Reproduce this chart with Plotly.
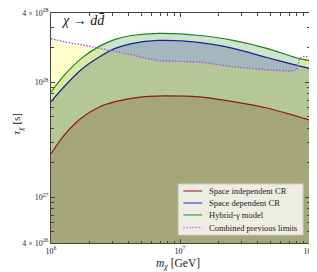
import plotly.graph_objects as go

# ---- data ----
mass_red = [1e6, 1.29e6, 1.73e6, 2.33e6, 3.14e6, 4.22e6, 5.68e6, 7.66e6, 1.4e7, 2.58e7, 4.71e7, 1e8]
tau_red = [2.39e27, 3.56e27, 4.92e27, 6.04e27, 6.78e27, 7.24e27, 7.53e27, 7.62e27, 7.47e27, 6.78e27, 5.97e27, 4.70e27]

mass_blue = [1e6, 1.29e6, 1.73e6, 2.33e6, 3.14e6, 4.22e6, 6.79e6, 1.435e7, 2.58e7, 4.71e7, 8.51e7, 1e8]
tau_blue = [6.78e27, 9.37e27, 1.295e28, 1.64e28, 1.97e28, 2.17e28, 2.31e28, 2.21e28, 1.97e28, 1.64e28, 1.38e28, 1.32e28]

mass_green = [1e6, 1.29e6, 1.73e6, 2.33e6, 3.14e6, 4.22e6, 6.79e6, 1.435e7, 2.58e7, 4.71e7, 8.51e7, 1e8]
tau_green = [8.23e27, 1.175e28, 1.62e28, 2.03e28, 2.36e28, 2.55e28, 2.66e28, 2.55e28, 2.31e28, 1.97e28, 1.60e28, 1.55e28]

mass_prev = [1e6, 1.36e6, 1.73e6, 2.33e6, 3.14e6, 4.22e6, 5.36e6, 6.79e6, 1.435e7, 1.93e7, 2.58e7,
             3.49e7, 4.71e7, 7.13e7, 8.04e7, 8.51e7, 8.97e7, 1e8]
tau_prev = [2.39e28, 2.21e28, 2.12e28, 1.99e28, 1.87e28, 1.73e28, 1.62e28, 1.54e28, 1.50e28, 1.43e28, 1.36e28,
            1.32e28, 1.28e28, 1.25e28, 1.29e28, 1.62e28, 1.67e28, 1.67e28]

y_tickvals = [4e26, 1e27, 1e28, 4e28]
y_ticktext = ["4 × 10<sup>26</sup>", "10<sup>27</sup>", "10<sup>28</sup>", "4 × 10<sup>28</sup>"]
x_tickvals = [1e6, 1e7, 1e8]
x_ticktext = ["10<sup>6</sup>", "10<sup>7</sup>", "10<sup>8</sup>"]

labels = ["Space independent CR", "Space dependent CR", "Hybrid-γ model", "Combined previous limits"]

BASE = 1e26
FONT = "Liberation Serif"

LINE_COLORS = ["#8b1a1a", "#1c1c9a", "#1e801e", "#a855d8"]
LEGEND_COLORS = ["#b05858", "#6a6ad0", "#5aae5a", "#c77ae6"]

fig = go.Figure()


def band(m, t, color):
    fig.add_trace(go.Scatter(
        x=list(m) + list(m[::-1]), y=list(t) + [BASE] * len(m),
        fill="toself", fillcolor=color, mode="none", showlegend=False, hoverinfo="skip"))


band(mass_green, tau_green, "rgba(0,128,0,0.2)")
band(mass_blue, tau_blue, "rgba(0,0,128,0.2)")
band(mass_prev, tau_prev, "rgba(255,255,0,0.2)")
band(mass_red, tau_red, "rgba(106,38,0,0.2)")

fig.add_trace(go.Scatter(x=mass_red, y=tau_red, mode="lines", name=labels[0], showlegend=False,
                         line=dict(color=LINE_COLORS[0], width=1.2, shape="spline")))
fig.add_trace(go.Scatter(x=mass_blue, y=tau_blue, mode="lines", name=labels[1], showlegend=False,
                         line=dict(color=LINE_COLORS[1], width=1.2, shape="spline")))
fig.add_trace(go.Scatter(x=mass_green, y=tau_green, mode="lines", name=labels[2], showlegend=False,
                         line=dict(color=LINE_COLORS[2], width=1.2, shape="spline")))
fig.add_trace(go.Scatter(x=mass_prev, y=tau_prev, mode="lines", name=labels[3], showlegend=False,
                         line=dict(color=LINE_COLORS[3], width=1.4, dash="1.5px,1.5px")))

minor_y = [5e26, 6e26, 7e26, 8e26, 9e26, 2e27, 3e27, 4e27, 5e27, 6e27, 7e27, 8e27, 9e27, 2e28, 3e28]
minor_x = [k * 1e6 for k in range(2, 10)] + [k * 1e7 for k in range(2, 10)]

axis_common = dict(
    type="log", showgrid=False, zeroline=False, showline=True, linecolor="#444", linewidth=1,
    mirror="ticks", ticks="inside", ticklen=4, tickcolor="#444", tickwidth=0.8,
    tickfont=dict(family=FONT, size=8, color="#222"), automargin=False, ticklabeloverflow="allow",
)

fig.update_xaxes(**axis_common, range=[6, 8], tickvals=x_tickvals, ticktext=x_ticktext, ticklabelstandoff=0,
                 minor=dict(tickvals=minor_x, ticks="inside", ticklen=2.5, tickcolor="#444", tickwidth=0.8))
fig.update_yaxes(**axis_common, range=[26.60206, 28.60206], tickvals=y_tickvals, ticktext=y_ticktext,
                 minor=dict(tickvals=minor_y, ticks="inside", ticklen=2.5, tickcolor="#444", tickwidth=0.8))

# axis titles
fig.add_annotation(x=0.493, y=-0.092, xref="paper", yref="paper", xanchor="center", yanchor="middle",
                   text="<i>m</i><sub><i>χ</i></sub> [GeV]", showarrow=False,
                   font=dict(family=FONT, size=11.5, color="#222"))
fig.add_annotation(x=-0.1644, y=0.517, xref="paper", yref="paper", xanchor="left", yanchor="middle",
                   text="<i>τ</i><sub><i>χ</i></sub> [s]", showarrow=False, textangle=-90,
                   font=dict(family=FONT, size=11, color="#222"))

fig.add_annotation(x=0.03, y=1.01, xref="paper", yref="paper", xanchor="left", yanchor="top",
                   text="<i>χ</i> → <i>d</i><i>d\u0304</i>", showarrow=False,
                   font=dict(family=FONT, size=14, color="#111"))

# ---- legend drawn as a framed box (paper coordinates) ----
fig.add_shape(type="rect", xref="paper", yref="paper", x0=0.493, x1=0.977, y0=0.035, y1=0.2565,
              fillcolor="rgba(255,255,255,0.8)", line=dict(color="#cccccc", width=1), layer="above")
row_y = [0.226, 0.174, 0.122, 0.067]
dashes = ["solid", "solid", "solid", "1.5px,1.5px"]
for lab, col, yy, dsh in zip(labels, LEGEND_COLORS, row_y, dashes):
    fig.add_shape(type="line", xref="paper", yref="paper", x0=0.513, x1=0.586, y0=yy, y1=yy,
                  line=dict(color=col, width=1.5, dash=dsh), layer="above")
    fig.add_annotation(x=0.603, y=yy, xref="paper", yref="paper", xanchor="left", yanchor="middle",
                       text=lab, showarrow=False, font=dict(family=FONT, size=8.5, color="#222"))

fig.update_layout(
    width=309, height=264,
    margin=dict(l=42.5, r=8, t=5, b=29, pad=0),
    plot_bgcolor="white", paper_bgcolor="white",
    showlegend=False,
)

fig.write_html("out.html")
